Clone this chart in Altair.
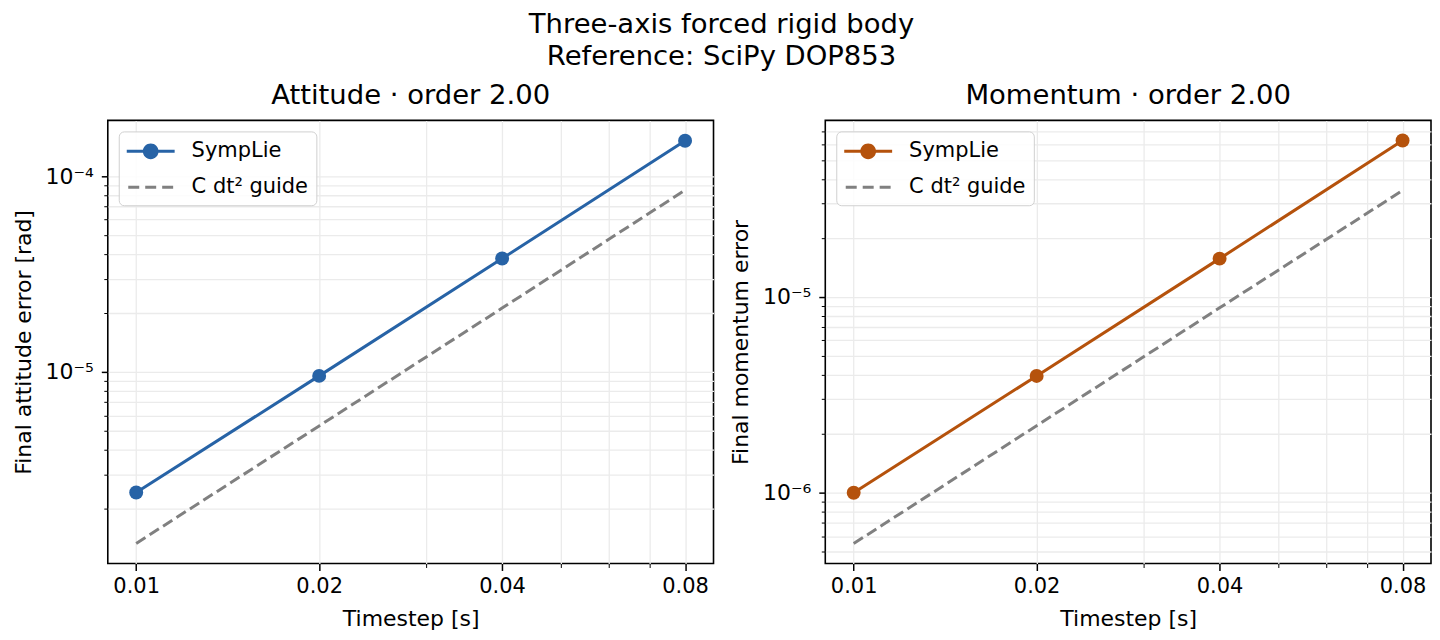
import altair as alt
import pandas as pd

# --- data ---
dt = [0.01, 0.02, 0.04, 0.08]

attitude_err = [2.42e-6, 9.55e-6, 3.8e-5, 1.52e-4]
attitude_guide = [1.33e-6, 5.3e-6, 2.12e-5, 8.5e-5]

momentum_err = [1.0e-6, 3.95e-6, 1.57e-5, 6.3e-5]
momentum_guide = [5.5e-7, 2.2e-6, 8.8e-6, 3.5e-5]

series = ["SympLie", "C dt² guide"]
x_ticks_major = [0.01, 0.02, 0.04, 0.08]
x_ticks_minor = [0.03, 0.05, 0.06, 0.07]
x_domain = [0.00898, 0.0891]

att_domain = [1.05e-6, 1.93e-4]
mom_domain = [4.35e-7, 7.98e-5]

BLUE = "#2763a6"
ORANGE = "#b5520c"
GREY = "#808080"
FONT = "DejaVu Sans"

# legend symbols drawn in a 24px box (unit = 12px), stretched to 48px to the right
SYM_LINE_DOT = ("M-1,-0.125H3V0.125H-1Z "
                "M0.34,0A0.66,0.66 0 1,1 1.66,0A0.66,0.66 0 1,1 0.34,0Z")
SYM_DASH = ("M-0.875,-0.125H0.042V0.125H-0.875Z "
            "M0.542,-0.125H1.458V0.125H0.542Z "
            "M1.958,-0.125H2.875V0.125H1.958Z")


def log_ticks(lo, hi):
    out = []
    for e in range(-8, 0):
        for m in range(1, 10):
            v = float(f"{m}e{e}")
            if lo <= v <= hi:
                out.append(v)
    return out


major_test = "abs(log(datum.value)/LN10 - round(log(datum.value)/LN10)) < 0.01"
expn = "round(log(datum.value)/LN10)"
sup = {-4: "10⁻⁴", -5: "10⁻⁵", -6: "10⁻⁶", -7: "10⁻⁷"}
y_label_expr = major_test + " ? (" + " : ".join(
    f"{expn} == {k} ? '{v}'" for k, v in sup.items()) + " : '') : ''"

x_major_list = "[" + ",".join(str(v) for v in x_ticks_major) + "]"
x_test = f"indexof({x_major_list}, datum.value) >= 0"
x_label_expr = f"{x_test} ? format(datum.value, '.2f') : ''"

x_axis = alt.Axis(
    values=x_ticks_major + x_ticks_minor,
    labelExpr=x_label_expr,
    tickSize={"condition": {"test": x_test, "value": 7}, "value": 4},
    tickWidth={"condition": {"test": x_test, "value": 1.5}, "value": 1},
    labelFontSize=21, titleFontSize=22, labelPadding=5, titlePadding=12,
    domain=False, tickColor="black", labelColor="black", titleColor="black",
    labelFont=FONT, titleFont=FONT, titleFontWeight="normal",
    gridColor="#ebebeb", gridWidth=1.3,
)


def y_axis(ticks):
    return alt.Axis(
        values=ticks,
        labelExpr=y_label_expr,
        tickSize={"condition": {"test": major_test, "value": 6.5}, "value": 4},
        tickWidth={"condition": {"test": major_test, "value": 1.5}, "value": 1},
        labelFontSize=22, titleFontSize=22, labelPadding=8, titlePadding=10,
        domain=False, tickColor="black", labelColor="black", titleColor="black",
        labelFont=FONT, titleFont=FONT, titleFontWeight="normal",
        gridColor="#ebebeb", gridWidth=1.3,
    )


def panel(err, guide, color, title, ytitle, ydomain):
    df = pd.DataFrame({"dt": dt, "err": err, "guide": guide})
    base = alt.Chart(df)
    x = alt.X("dt:Q", title="Timestep [s]",
              scale=alt.Scale(type="log", domain=x_domain), axis=x_axis)
    yscale = alt.Scale(type="log", domain=ydomain)
    yax = y_axis(log_ticks(*ydomain))

    data_line = base.mark_line(color=color, strokeWidth=3).encode(
        x=x, y=alt.Y("err:Q", title=ytitle, scale=yscale, axis=yax))
    data_pts = base.mark_circle(color=color, size=195, opacity=1).encode(
        x=x, y=alt.Y("err:Q", title=ytitle, scale=yscale, axis=yax))
    guide_line = base.mark_line(color=GREY, strokeWidth=3, strokeDash=[11, 5]).encode(
        x=x, y=alt.Y("guide:Q", title=ytitle, scale=yscale, axis=yax))

    leg_df = pd.DataFrame({"series": series})
    legend = alt.Legend(
        title=None, orient="none", legendX=11, legendY=11,
        symbolSize=576, symbolStrokeWidth=0, symbolOpacity=1,
        labelFontSize=21, labelFont=FONT, labelColor="black", labelOffset=41,
        padding=8, rowPadding=14, cornerRadius=5,
        strokeColor="#d0d0d0", fillColor="rgba(255,255,255,0.85)",
    )
    legend_layer = alt.Chart(leg_df).transform_filter("false").mark_point(
        filled=True, opacity=1).encode(
        color=alt.Color("series:N", scale=alt.Scale(domain=series, range=[color, GREY]),
                        legend=legend),
        shape=alt.Shape("series:N", scale=alt.Scale(domain=series,
                                                    range=[SYM_LINE_DOT, SYM_DASH]),
                        legend=legend),
    )

    return alt.layer(guide_line, data_line, data_pts, legend_layer).properties(
        width=607, height=444,
        title=alt.TitleParams(title, fontSize=27.5, font=FONT, fontWeight="normal",
                              color="black", offset=11),
    )


left = panel(attitude_err, attitude_guide, BLUE, "Attitude · order 2.00",
             "Final attitude error [rad]", att_domain)
right = panel(momentum_err, momentum_guide, ORANGE, "Momentum · order 2.00",
              "Final momentum error", mom_domain)

chart = alt.hconcat(left, right, spacing=14).resolve_scale(
    color="independent", shape="independent"
).properties(
    title=alt.TitleParams(["Three-axis forced rigid body", "Reference: SciPy DOP853"],
                          fontSize=27.5, font=FONT, fontWeight="normal", color="black",
                          anchor="middle", lineHeight=32, offset=11),
    padding={"left": 3, "top": 2, "right": 0, "bottom": 0},
).configure_view(stroke="black", strokeWidth=1.6)

chart.save("out.html", embed_options={"renderer": "svg", "actions": False})
